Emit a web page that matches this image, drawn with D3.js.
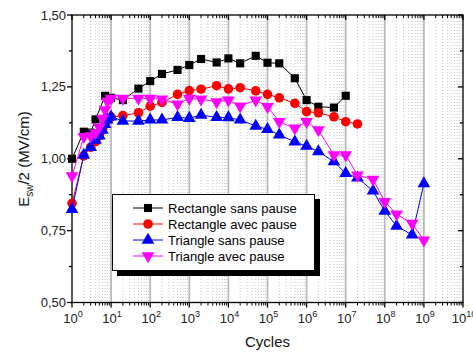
<!DOCTYPE html>
<html><head><meta charset="utf-8">
<script src="https://cdn.jsdelivr.net/npm/d3@7"></script>
<style>body{margin:0;background:#fff}svg{display:block}text{font-family:"Liberation Sans",Arial,sans-serif}</style>
</head><body>
<svg id="c" width="473" height="353"></svg>
<script>
const rsX = [1,2,3,4,7,10,20,50,100,200,500,1e3,2e3,5e3,1e4,2e4,5e4,1e5,2e5,5e5,1e6,2e6,5e6,1e7];
const rsY = [1.00,1.094,1.091,1.137,1.219,1.212,1.204,1.244,1.270,1.295,1.309,1.326,1.347,1.335,1.349,1.332,1.358,1.334,1.332,1.280,1.204,1.181,1.178,1.219];
const raX = [1,2,3,4,5,6,7,8,10,20,50,100,200,500,1e3,2e3,5e3,1e4,2e4,5e4,1e5,2e5,5e5,1e6,2e6,5e6,1e7,2e7];
const raY = [0.845,1.01,1.04,1.06,1.08,1.10,1.12,1.135,1.145,1.150,1.160,1.183,1.196,1.224,1.237,1.242,1.254,1.243,1.247,1.236,1.224,1.212,1.193,1.164,1.160,1.146,1.129,1.121];
const tsX = [1,2,3,4,5,6,7,8,10,20,50,100,200,500,1e3,2e3,5e3,1e4,2e4,5e4,1e5,2e5,5e5,1e6,2e6,5e6,1e7,2e7,5e7,1e8,2e8,5e8,1e9];
const tsY = [0.824,1.013,1.04,1.065,1.08,1.10,1.12,1.135,1.146,1.131,1.131,1.135,1.135,1.144,1.141,1.152,1.144,1.143,1.135,1.114,1.102,1.083,1.059,1.044,1.025,0.990,0.949,0.934,0.888,0.818,0.766,0.735,0.914];
const taX = [1,2,3,4,5,6,7,8,10,20,50,100,200,500,1e3,2e3,5e3,1e4,2e4,5e4,1e5,2e5,5e5,1e6,2e6,5e6,1e7,2e7,5e7,1e8,2e8,5e8,1e9];
const taY = [0.94,1.077,1.079,1.09,1.11,1.14,1.17,1.20,1.21,1.21,1.21,1.21,1.207,1.19,1.21,1.207,1.198,1.204,1.183,1.204,1.181,1.129,1.106,1.129,1.10,1.013,1.013,0.943,0.928,0.851,0.807,0.775,0.717];
const seriesNames = ["Rectangle sans pause","Rectangle avec pause","Triangle sans pause","Triangle avec pause"];
const seriesColors = ["#000000","#ff0000","#0000ff","#ff00ff"];
const yTicks = [0.50,0.75,1.00,1.25,1.50];
const yTickLabels = ["0,50","0,75","1,00","1,25","1,50"];
const xExponents = [0,1,2,3,4,5,6,7,8,9,10];

const svg = d3.select("#c");
const L=72, R=463, T=15, B=302.5;
const x = d3.scaleLog().domain([1,1e10]).range([L,R]);
const y = d3.scaleLinear().domain([0.5,1.5]).range([B,T]);

// grid
const minors=[];
for(let e=0;e<10;e++) for(let k=2;k<=9;k++) minors.push(k*Math.pow(10,e));
svg.append("g").selectAll("line").data(minors).join("line")
  .attr("x1",d=>x(d)).attr("x2",d=>x(d)).attr("y1",T).attr("y2",B)
  .attr("stroke","#c8c8c8").attr("stroke-width",1).attr("stroke-dasharray","1,2");
svg.append("g").selectAll("line").data(xExponents.slice(1,10)).join("line")
  .attr("x1",d=>x(Math.pow(10,d))).attr("x2",d=>x(Math.pow(10,d))).attr("y1",T).attr("y2",B)
  .attr("stroke","#bbbbbb").attr("stroke-width",1.8);

// axes box
const ax = svg.append("g").attr("stroke","#000").attr("stroke-width",1.3);
ax.append("rect").attr("x",L).attr("y",T).attr("width",R-L).attr("height",B-T).attr("fill","none");
xExponents.forEach(e=>{
  const px=x(Math.pow(10,e));
  ax.append("line").attr("x1",px).attr("x2",px).attr("y1",B).attr("y2",B+5);
  ax.append("line").attr("x1",px).attr("x2",px).attr("y1",T).attr("y2",T+5);
});
minors.forEach(d=>{
  const px=x(d);
  ax.append("line").attr("x1",px).attr("x2",px).attr("y1",B).attr("y2",B+3).attr("stroke-width",1);
  ax.append("line").attr("x1",px).attr("x2",px).attr("y1",T).attr("y2",T+3).attr("stroke-width",1);
});
const yMinor=[0.625,0.875,1.125,1.375];
yTicks.forEach(v=>{
  ax.append("line").attr("x1",L-5).attr("x2",L).attr("y1",y(v)).attr("y2",y(v));
  ax.append("line").attr("x1",R-5).attr("x2",R).attr("y1",y(v)).attr("y2",y(v));
});
yMinor.forEach(v=>{
  ax.append("line").attr("x1",L-3).attr("x2",L).attr("y1",y(v)).attr("y2",y(v));
  ax.append("line").attr("x1",R-3).attr("x2",R).attr("y1",y(v)).attr("y2",y(v));
});

// tick labels
svg.append("g").selectAll("text").data(yTicks).join("text")
  .attr("x",L-6).attr("y",d=>y(d)+4.5).attr("text-anchor","end").attr("font-size",13).attr("fill","#222")
  .text((d,i)=>yTickLabels[i]);
xExponents.forEach(e=>{
  const t=svg.append("text").attr("x",x(Math.pow(10,e))+1).attr("y",B+20).attr("text-anchor","middle")
    .attr("font-size",13).attr("fill","#222");
  t.append("tspan").text("10");
  t.append("tspan").attr("font-size",9).attr("dy",-6).text(e);
});

// titles
svg.append("text").attr("x",(L+R)/2).attr("y",347).attr("text-anchor","middle").attr("font-size",15).attr("fill","#111").text("Cycles");
const yt=svg.append("text").attr("transform","translate(29,159) rotate(-90)").attr("text-anchor","middle").attr("font-size",15).attr("fill","#111");
yt.append("tspan").text("E");
yt.append("tspan").attr("font-size",10).attr("dy",4).text("sw");
yt.append("tspan").attr("dy",-4).text("/2 (MV/cm)");

// series
const series=[[rsX,rsY,"square"],[raX,raY,"circle"],[tsX,tsY,"tri"],[taX,taY,"tridown"]];
const sym = {
  square: d3.symbol().type(d3.symbolSquare).size(66),
  circle: d3.symbol().type(d3.symbolCircle).size(72),
  tri: d3.symbol().type(d3.symbolTriangle).size(70),
  tridown: d3.symbol().type(d3.symbolTriangle).size(70)
};
const line=d3.line().x(d=>x(d[0])).y(d=>y(d[1]));
series.forEach((s,i)=>{
  const pts=s[0].map((v,j)=>[v,s[1][j]]);
  const g=svg.append("g");
  g.append("path").attr("d",line(pts)).attr("fill","none").attr("stroke",seriesColors[i]).attr("stroke-width",1);
  g.selectAll("path.m").data(pts).join("path").attr("class","m")
    .attr("d",sym[s[2]]())
    .attr("transform",d=>`translate(${x(d[0])},${y(d[1])})`+(s[2]==="tridown"?" rotate(180)":""))
    .attr("fill",seriesColors[i]);
});

// legend
const lg=svg.append("g");
lg.append("rect").attr("x",117).attr("y",199).attr("width",203).attr("height",77).attr("fill","#000");
lg.append("rect").attr("x",112.5).attr("y",194.5).attr("width",202).attr("height",76).attr("fill","#fff").attr("stroke","#000").attr("stroke-width",1);
series.forEach((s,i)=>{
  const yy=208+i*16;
  lg.append("line").attr("x1",133).attr("x2",163).attr("y1",yy).attr("y2",yy).attr("stroke",seriesColors[i]).attr("stroke-width",1);
  lg.append("path").attr("d",sym[s[2]]()).attr("transform",`translate(148,${yy})`+(s[2]==="tridown"?" rotate(180)":"")).attr("fill",seriesColors[i]);
  lg.append("text").attr("x",168).attr("y",yy+5).attr("font-size",13).attr("fill","#000").text(seriesNames[i]);
});
</script>
</body></html>
